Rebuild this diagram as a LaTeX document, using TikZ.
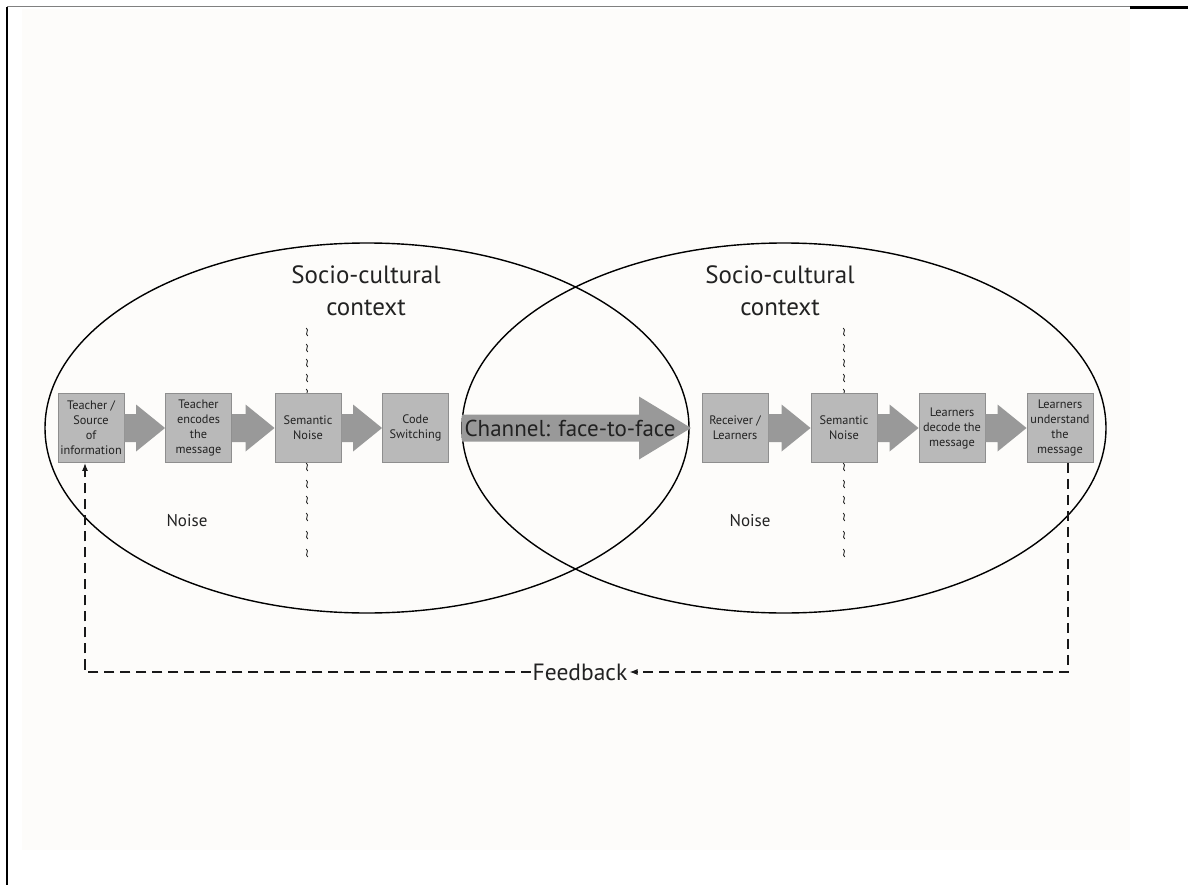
\documentclass[tikz,border=0pt]{standalone}
\usepackage{fontspec}
\setmainfont{PT Sans}
\usetikzlibrary{calc,arrows.meta}
\definecolor{boxfill}{HTML}{B9B9B9}
\definecolor{boxline}{HTML}{8E8E8E}
\definecolor{arrfill}{HTML}{999999}
\definecolor{txt}{HTML}{222222}
\definecolor{bgc}{HTML}{FDFCFA}
\newcommand{\fatarr}[2]{%
  \fill[arrfill] ($(#1.east)+(0,-14)$) -- ($(#2.west)+(-29,-14)$) -- ($(#2.west)+(-29,-23.5)$) -- (#2.west)
    -- ($(#2.west)+(-29,23.5)$) -- ($(#2.west)+(-29,14)$) -- ($(#1.east)+(0,14)$) -- cycle;}
\newcommand{\squiggle}[1]{%
  \draw[squigline] ($(#1)+(-0.8,-4)$) .. controls ($(#1)+(2.8,-1.5)$) and ($(#1)+(-2.8,1.5)$) .. ($(#1)+(0.8,4)$);}
\begin{document}
\begin{tikzpicture}[x=1pt,y=-1pt,
  stagebox/.style={draw=boxline, line width=0.9pt, fill=boxfill, minimum width=66pt, minimum height=69pt,
    inner sep=0pt, align=center, font=\fontsize{12.3}{15}\selectfont, text=txt},
  ctxlabel/.style={align=center, font=\fontsize{25}{32}\selectfont, text=txt},
  noiselabel/.style={font=\fontsize{17}{19}\selectfont, text=txt},
  squigline/.style={draw=txt, line width=0.85pt},
  ellip/.style={draw=black, line width=1.4pt},
  fbline/.style={draw=black!90, line width=1.2pt, dash pattern=on 10pt off 6pt},
  fbtip/.style={-{Latex[length=8pt,width=6pt]}}
]
\useasboundingbox (0,0) rectangle (1188,885);
\fill[bgc] (22,9) rectangle (1130,850);
% frame
\draw[line width=2pt] (7,7) -- (7,885);
\draw[gray, line width=1pt] (7,6.5) -- (1130,6.5);
\draw[line width=2.4pt] (1130,7.6) -- (1188,7.6);

% ellipses
\draw[ellip] (367,428) ellipse [x radius=322pt, y radius=185pt];
\draw[ellip] (784,428) ellipse [x radius=322pt, y radius=185pt];

% context labels
\node[ctxlabel] (ctxL) at (366,291) {Socio-cultural\\context};
\node[ctxlabel] (ctxR) at (780,291) {Socio-cultural\\context};

% noise squiggles
\foreach \y [count=\i] in {332,348,363,378,393,467,484,500,517,535,553} {
  \coordinate (sqL\i) at (307,\y);
  \coordinate (sqR\i) at (844,\y);
  \squiggle{sqL\i}
  \squiggle{sqR\i}
}

% boxes
\node[stagebox] (b1) at (91,428) {Teacher /\\Source\\of\\information};
\node[stagebox] (b2) at (198.5,428) {Teacher\\encodes\\the\\message};
\node[stagebox] (b3) at (308,428) {Semantic\\Noise};
\node[stagebox] (b4) at (415.5,428) {Code\\Switching};
\node[stagebox] (b5) at (735,428) {Receiver /\\Learners};
\node[stagebox] (b6) at (844,428) {Semantic\\Noise};
\node[stagebox] (b7) at (952,428) {Learners\\decode the\\message};
\node[stagebox] (b8) at (1060,428) {Learners\\understand\\the\\message};

\fatarr{b1}{b2}
\fatarr{b2}{b3}
\fatarr{b3}{b4}
\fatarr{b5}{b6}
\fatarr{b6}{b7}
\fatarr{b7}{b8}

% channel arrow
\coordinate (chS) at (462,428);
\coordinate (chT) at (691,428);
\fill[arrfill] ($(chS)+(0,-13.5)$) -- ($(chT)+(-52,-13.5)$) -- ($(chT)+(-52,-31.5)$) -- (chT)
  -- ($(chT)+(-52,31.5)$) -- ($(chT)+(-52,13.5)$) -- ($(chS)+(0,13.5)$) -- cycle;
\node[font=\fontsize{23}{27}\selectfont, text=txt] (ch) at (570,428) {Channel: face-to-face};

% noise labels
\node[noiselabel] (nL) at (187,521) {Noise};
\node[noiselabel] (nR) at (750,521) {Noise};

% feedback
\node[font=\fontsize{23.5}{26}\selectfont, text=txt, inner sep=2pt] (fb) at (580,672) {Feedback};
\coordinate (fbR) at (1068,672);
\coordinate (fbL) at (85,672);
\draw[fbline, fbtip] (b8.south -| fbR) -- (fbR) -- (fb.east);
\draw[fbline, fbtip] (fb.west) -- (fbL) -- (b1.south -| fbL);
\end{tikzpicture}
\end{document}
